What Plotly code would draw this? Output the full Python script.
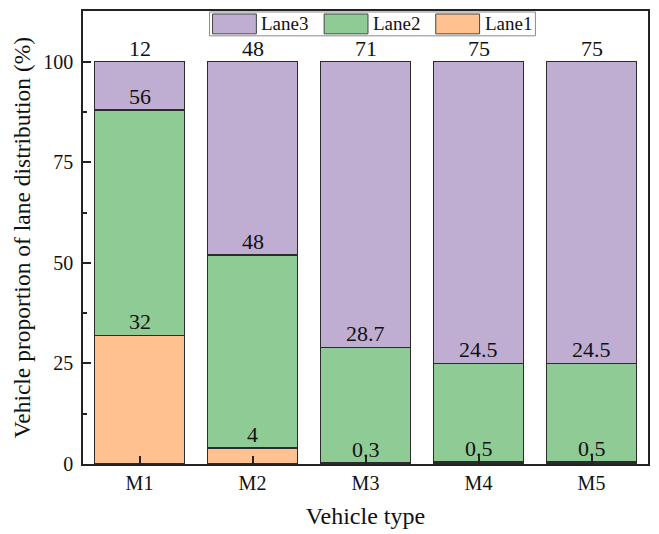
import plotly.graph_objects as go

# Vehicle categories and lane shares (%)
vehicle_types = ["M1", "M2", "M3", "M4", "M5"]
lane1 = [32, 4, 0.3, 0.5, 0.5]
lane2 = [56, 48, 28.7, 24.5, 24.5]
lane3 = [12, 48, 71, 75, 75]

series = [("Lane1", lane1, "#FEC18F"), ("Lane2", lane2, "#8FCB95"), ("Lane3", lane3, "#BFADD2")]

FONT = "Liberation Serif, Times New Roman, serif"
W, H = 659, 534
L, R, T, B = 83, 9, 10, 68

fig = go.Figure()
for name, vals, color in series:
    fig.add_trace(go.Bar(
        x=vehicle_types, y=vals, name=name, width=0.8,
        marker=dict(color=color, line=dict(color="#2b2b2b", width=1.5)),
        hoverinfo="x+y+name",
    ))


def fmt(v):
    return str(int(v)) if float(v).is_integer() else str(v)


# value labels sit on top of each stacked segment
annotations = []
for i, cat in enumerate(vehicle_types):
    base = 0
    for name, vals, color in series:
        base += vals[i]
        annotations.append(dict(
            x=cat, y=base, xref="x", yref="y", text=fmt(vals[i]),
            showarrow=False, yanchor="bottom", yshift=-1,
            font=dict(family=FONT, size=22, color="#111"),
        ))

# boxed legend drawn at the top of the plot area
pw, ph = W - L - R, H - T - B


def px(xp):
    return (xp - L) / pw


def py(yp):
    return (H - B - yp) / ph


shapes = [dict(type="rect", xref="paper", yref="paper",
               x0=px(210), x1=px(537), y0=py(35), y1=py(11),
               line=dict(color="#888", width=1), fillcolor="white", layer="above")]
legend_items = [("Lane3", "#BFADD2", 213), ("Lane2", "#8FCB95", 325), ("Lane1", "#FEC18F", 437)]
for name, color, x0 in legend_items:
    shapes.append(dict(type="rect", xref="paper", yref="paper",
                       x0=px(x0), x1=px(x0 + 44), y0=py(33), y1=py(13),
                       line=dict(color="#444", width=1), fillcolor=color, layer="above"))
    annotations.append(dict(x=px(x0 + 47), y=py(23), xref="paper", yref="paper",
                            text=name, showarrow=False, xanchor="left", yanchor="middle",
                            font=dict(family=FONT, size=19, color="#111")))

fig.update_layout(
    width=W, height=H,
    margin=dict(l=L, r=R, t=T, b=B),
    barmode="stack", showlegend=False,
    paper_bgcolor="white", plot_bgcolor="white",
    font=dict(family=FONT, size=20, color="#111"),
    annotations=annotations, shapes=shapes,
    xaxis=dict(
        range=[-0.5, 4.5], showline=True, linecolor="#222", linewidth=1.5, mirror=True,
        ticks="inside", ticklen=8, tickwidth=1.5, tickcolor="#222",
        minor=dict(ticks="inside", ticklen=4, tickwidth=1.5, tickcolor="#222", tick0=-0.5, dtick=1),
        title=dict(text="Vehicle type", font=dict(family=FONT, size=24), standoff=14),
        tickfont=dict(family=FONT, size=20), showgrid=False,
    ),
    yaxis=dict(
        range=[0, 112.6], showline=True, linecolor="#222", linewidth=1.5, mirror=True,
        tickvals=[0, 25, 50, 75, 100], ticks="inside", ticklen=8, tickwidth=1.5, tickcolor="#222",
        minor=dict(ticks="inside", ticklen=4, tickwidth=1.5, tickcolor="#222", dtick=12.5, tick0=0),
        ticklabelstandoff=4,
        title=dict(text="Vehicle proportion of lane distribution (%)", font=dict(family=FONT, size=23.5), standoff=6),
        tickfont=dict(family=FONT, size=20), showgrid=False, zeroline=False,
    ),
)

fig.write_html("out.html")
